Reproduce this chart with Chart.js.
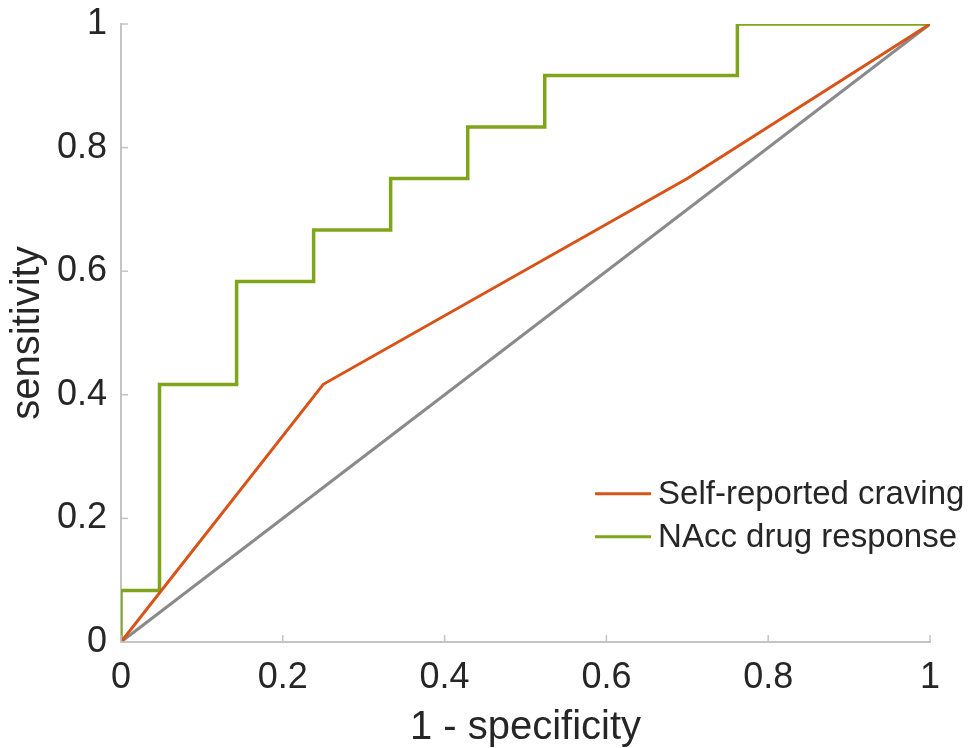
<!DOCTYPE html>
<html>
<head>
<meta charset="utf-8">
<script src="https://cdn.jsdelivr.net/npm/chart.js@4"></script>
<style>
  html, body { margin: 0; padding: 0; background: #fff; }
  #wrap { width: 977px; height: 748px; }
</style>
</head>
<body>
<div id="wrap"><canvas id="rocChart"></canvas></div>
<script>
// ROC points
var cravingFpr = [0, 0.25, 0.70, 1];
var cravingTpr = [0, 0.417, 0.75, 1];

var naccFpr = [0, 0, 0.0476, 0.1429, 0.2381, 0.3333, 0.4286, 0.5238, 0.7619, 1];
var naccTpr = [0, 0.0833, 0.4167, 0.5833, 0.6667, 0.75, 0.8333, 0.9167, 1, 1];

var chanceFpr = [0, 1];
var chanceTpr = [0, 1];

var tickValues = [0, 0.2, 0.4, 0.6, 0.8, 1];

var seriesLabels = ['Self-reported craving', 'NAcc drug response'];

function toPoints(xs, ys) {
    return xs.map(function (x, i) { return { x: x, y: ys[i] }; });
}

var FONT = "'Liberation Sans', Arial, Helvetica, sans-serif";
var AXIS_COLOR = '#c4c4c4';
var TEXT_COLOR = '#262626';

// MATLAB-like ticks drawn inward from the axis lines
var innerTicks = {
    id: 'innerTicks',
    afterDatasetsDraw: function (chart) {
        var ctx = chart.ctx, a = chart.chartArea;
        var xs = chart.scales.x, ys = chart.scales.y;
        ctx.save();
        ctx.strokeStyle = AXIS_COLOR;
        ctx.lineWidth = 1.5;
        tickValues.forEach(function (v) {
            var px = xs.getPixelForValue(v);
            ctx.beginPath(); ctx.moveTo(px, a.bottom); ctx.lineTo(px, a.bottom - 7); ctx.stroke();
            var py = ys.getPixelForValue(v);
            ctx.beginPath(); ctx.moveTo(a.left, py); ctx.lineTo(a.left + 7, py); ctx.stroke();
        });
        ctx.restore();
    }
};

// legend in the lower right of the plot
var innerLegend = {
    id: 'innerLegend',
    afterDraw: function (chart) {
        var ctx = chart.ctx;
        var xs = chart.scales.x, ys = chart.scales.y;
        var x0 = xs.getPixelForValue(0.586);
        var y0 = ys.getPixelForValue(0.24);
        ctx.save();
        ctx.font = '33px ' + FONT;
        ctx.textBaseline = 'middle';
        [0, 1].forEach(function (i) {
            var ds = chart.data.datasets[i];
            var y = y0 + i * 43;
            ctx.strokeStyle = ds.borderColor;
            ctx.lineWidth = 3;
            ctx.beginPath(); ctx.moveTo(x0, y); ctx.lineTo(x0 + 56, y); ctx.stroke();
            ctx.fillStyle = TEXT_COLOR;
            ctx.fillText(ds.label, x0 + 63, y + 1);
        });
        ctx.restore();
    }
};

var ctx = document.getElementById('rocChart').getContext('2d');
var myChart = new Chart(ctx, {
    type: 'scatter',
    data: {
        datasets: [
            {
                label: seriesLabels[0],
                data: toPoints(cravingFpr, cravingTpr),
                borderColor: '#D95319',
                borderWidth: 3,
                showLine: true,
                pointRadius: 0
            },
            {
                label: seriesLabels[1],
                data: toPoints(naccFpr, naccTpr),
                borderColor: '#7FA61A',
                borderWidth: 3.5,
                showLine: true,
                stepped: 'before',
                pointRadius: 0
            },
            {
                label: 'chance',
                data: toPoints(chanceFpr, chanceTpr),
                borderColor: '#8a8a8a',
                borderWidth: 3,
                showLine: true,
                pointRadius: 0
            }
        ]
    },
    options: {
        responsive: true,
        maintainAspectRatio: false,
        animation: false,
        layout: { padding: { left: 0, right: 47, top: 24, bottom: 0 } },
        plugins: {
            legend: { display: false },
            tooltip: { enabled: false }
        },
        scales: {
            x: {
                type: 'linear',
                min: 0, max: 1,
                afterBuildTicks: function (s) { s.ticks = tickValues.map(function (v) { return { value: v }; }); },
                afterFit: function (s) { s.height = 106; },
                grid: { display: true, drawOnChartArea: false, drawTicks: false },
                border: { color: AXIS_COLOR, width: 2 },
                ticks: {
                    padding: 14,
                    color: TEXT_COLOR,
                    font: { family: FONT, size: 36 },
                    callback: function (v) { return String(v); }
                },
                title: {
                    display: true,
                    text: '1 - specificity',
                    color: TEXT_COLOR,
                    font: { family: FONT, size: 40, lineHeight: 1 },
                    padding: { top: 0, bottom: 0 }
                }
            },
            y: {
                type: 'linear',
                min: 0, max: 1,
                afterBuildTicks: function (s) { s.ticks = tickValues.map(function (v) { return { value: v }; }); },
                afterFit: function (s) { s.width = 121; s.paddingTop = 0; s.paddingBottom = 0; },
                grid: { display: true, drawOnChartArea: false, drawTicks: false },
                border: { color: AXIS_COLOR, width: 2 },
                ticks: {
                    padding: 14,
                    color: TEXT_COLOR,
                    font: { family: FONT, size: 36 },
                    callback: function (v) { return String(v); }
                },
                title: {
                    display: true,
                    text: 'sensitivity',
                    color: TEXT_COLOR,
                    font: { family: FONT, size: 40, lineHeight: 1 },
                    padding: { top: 8, bottom: 0 }
                }
            }
        }
    },
    plugins: [innerTicks, innerLegend]
});
</script>
</body>
</html>
